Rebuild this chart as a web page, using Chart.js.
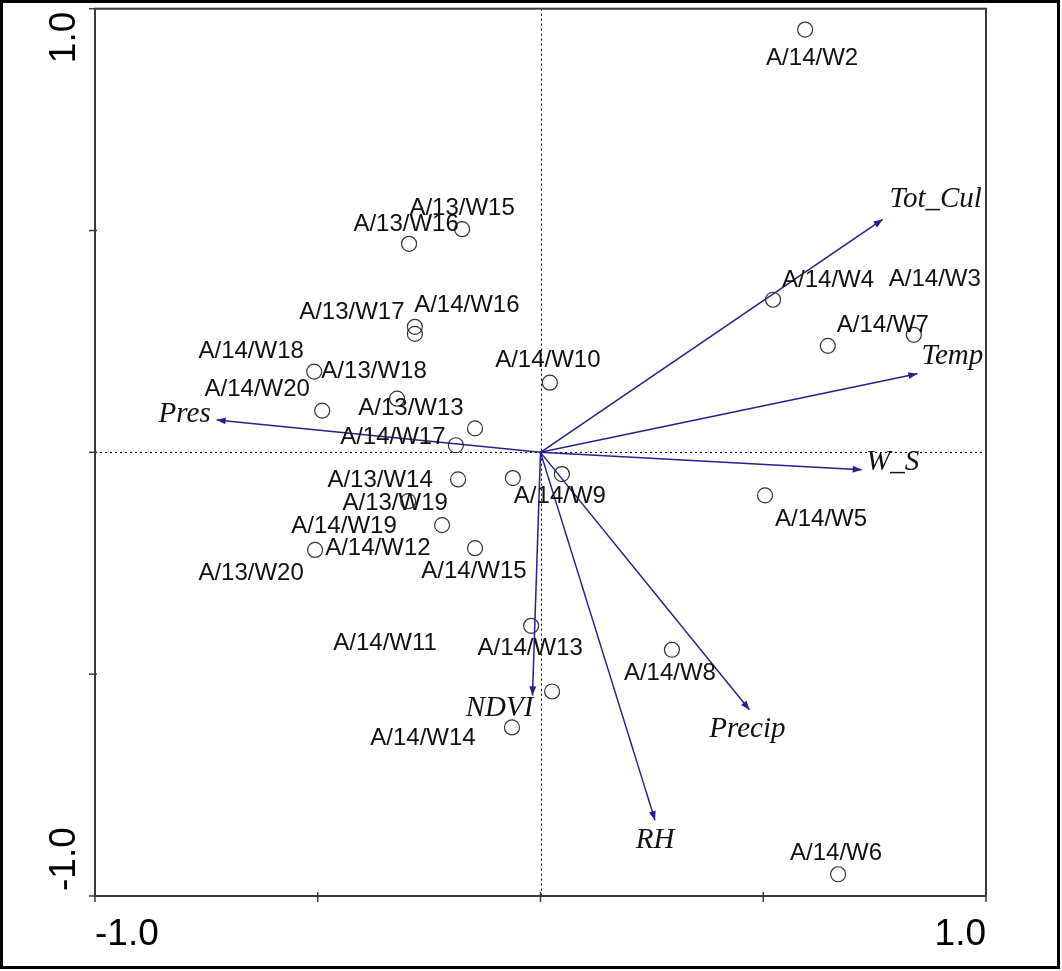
<!DOCTYPE html>
<html><head><meta charset="utf-8">
<script src="https://cdn.jsdelivr.net/npm/chart.js@4.4.1/dist/chart.umd.min.js"></script>
<style>html,body{margin:0;padding:0;background:#fff;overflow:hidden}canvas{display:block}</style>
</head><body>
<canvas id="c" width="1062" height="971"></canvas>
<script>
// ---- data ----
const sampleNames = ['A/14/W2','A/14/W4','A/14/W7','A/14/W3','A/14/W6','A/14/W5','A/14/W8','A/14/W10','A/14/W9',
  'A/14/W12','A/13/W14','A/13/W19','A/14/W19','A/13/W20','A/14/W15','A/13/W15','A/13/W16','A/14/W16','A/13/W17',
  'A/14/W18','A/13/W18','A/14/W20','A/13/W13','A/14/W17','A/14/W13','A/14/W11','A/14/W14'];
const sampleX = [0.594,0.522,0.645,0.838,0.668,0.504,0.295,0.021,0.048,
  -0.062,-0.185,-0.297,-0.221,-0.506,-0.147,-0.176,-0.295,-0.282,-0.282,
  -0.508,-0.322,-0.490,-0.147,-0.190,-0.021,0.026,-0.064];
const sampleY = [0.953,0.344,0.240,0.265,-0.951,-0.097,-0.445,0.157,-0.049,
  -0.058,-0.061,-0.110,-0.164,-0.220,-0.216,0.503,0.470,0.283,0.267,
  0.182,0.121,0.094,0.054,0.016,-0.391,-0.539,-0.620];
const varNames = ['Tot_Cul','Temp','W_S','Precip','RH','NDVI','Pres'];
const varX = [0.768,0.846,0.721,0.469,0.257,-0.018,-0.727];
const varY = [0.525,0.177,-0.039,-0.580,-0.829,-0.548,0.073];
const tickValues = [-1,-0.5,0,0.5,1];
const axisLabels = ['-1.0','1.0'];

// ---- layout (pixel offsets of label centres from their mark) ----
const sampleLabelOffset = [[7,27],[55,-21],[55,-22],[21,-57],[-2,-23],[56,22],[-2,22],[-2,-24],[-2,20],
  [-135,68],[-78,-1],[-13,0],[-98,-1],[-64,21],[-1,21],[0,-23],[-3,-21],[52,-23],[-63,-23],
  [-63,-22],[-23,-29],[-65,-23],[-64,-22],[-63,-10],[-1,21],[-167,-50],[-89,9]];
const varLabelOffset = [[53,-22],[35,-19],[31,-9],[-2,18],[0,18],[-33,11],[-32,-7]];

const NAVY = '#24218c';

const arrowDatasets = varNames.map((n,i)=>({
  type:'line', label:n,
  data:[{x:0,y:0},{x:varX[i],y:varY[i]}],
  borderColor:NAVY, borderWidth:1.5, pointRadius:0, fill:false, tension:0
}));

const decor = {
  id:'decor',
  beforeDatasetsDraw(chart){
    const {ctx, scales:{x,y}} = chart;
    const a = chart.chartArea;
    ctx.save();
    ctx.strokeStyle = '#000'; ctx.lineWidth = 1;
    ctx.setLineDash([2,3]);
    const x0 = Math.round(x.getPixelForValue(0))+0.5, y0 = Math.round(y.getPixelForValue(0))+0.5;
    ctx.beginPath(); ctx.moveTo(x0,a.top); ctx.lineTo(x0,a.bottom); ctx.stroke();
    ctx.beginPath(); ctx.moveTo(a.left,y0); ctx.lineTo(a.right,y0); ctx.stroke();
    ctx.restore();
  },
  afterDatasetsDraw(chart){
    const {ctx, scales:{x,y}} = chart;
    const a = chart.chartArea;
    ctx.save();
    // arrowheads
    ctx.fillStyle = NAVY;
    varNames.forEach((n,i)=>{
      const px = x.getPixelForValue(varX[i]), py = y.getPixelForValue(varY[i]);
      const ox = x.getPixelForValue(0), oy = y.getPixelForValue(0);
      const ang = Math.atan2(py-oy, px-ox);
      const L = 9, W = 3.5;
      ctx.beginPath();
      ctx.moveTo(px,py);
      ctx.lineTo(px - L*Math.cos(ang) + W*Math.sin(ang), py - L*Math.sin(ang) - W*Math.cos(ang));
      ctx.lineTo(px - L*Math.cos(ang) - W*Math.sin(ang), py - L*Math.sin(ang) + W*Math.cos(ang));
      ctx.closePath(); ctx.fill();
    });
    // variable labels
    ctx.fillStyle = '#111';
    ctx.font = 'italic 29px "Liberation Serif"';
    ctx.textAlign = 'center'; ctx.textBaseline = 'alphabetic';
    varNames.forEach((n,i)=>{
      const px = x.getPixelForValue(varX[i]) + varLabelOffset[i][0];
      const py = y.getPixelForValue(varY[i]) + varLabelOffset[i][1];
      ctx.fillText(n, px, py + 9.5);
    });
    // sample labels
    ctx.font = '24px "Liberation Sans"';
    sampleNames.forEach((n,i)=>{
      const px = x.getPixelForValue(sampleX[i]) + sampleLabelOffset[i][0];
      const py = y.getPixelForValue(sampleY[i]) + sampleLabelOffset[i][1];
      ctx.fillText(n, px, py + 8.6);
    });
    // plot frame
    ctx.strokeStyle = '#3a3a3a'; ctx.lineWidth = 2;
    ctx.strokeRect(a.left, a.top, a.right-a.left, a.bottom-a.top);
    // ticks
    ctx.lineWidth = 1.5;
    tickValues.forEach(v=>{
      const px = x.getPixelForValue(v);
      ctx.beginPath(); ctx.moveTo(px, a.bottom-4); ctx.lineTo(px, a.bottom+6); ctx.stroke();
      const py = y.getPixelForValue(v);
      ctx.beginPath(); ctx.moveTo(a.left-6, py); ctx.lineTo(a.left+2, py); ctx.stroke();
    });
    // axis labels
    ctx.fillStyle = '#000';
    ctx.font = '37px "Liberation Sans"';
    ctx.textBaseline = 'alphabetic';
    ctx.textAlign = 'left';
    ctx.fillText(axisLabels[0], x.getPixelForValue(-1), 945);
    ctx.textAlign = 'right';
    ctx.fillText(axisLabels[1], x.getPixelForValue(1), 945);
    ctx.save();
    ctx.translate(75, y.getPixelForValue(1));
    ctx.rotate(-Math.PI/2);
    ctx.textAlign = 'right';
    ctx.fillText(axisLabels[1], -3, 0);
    ctx.restore();
    ctx.save();
    ctx.translate(75, y.getPixelForValue(-1));
    ctx.rotate(-Math.PI/2);
    ctx.textAlign = 'left';
    ctx.fillText(axisLabels[0], 5, 0);
    ctx.restore();
    // outer frame
    ctx.strokeStyle = '#000'; ctx.lineWidth = 3;
    ctx.strokeRect(1.5, 1.5, 1057, 966);
    ctx.restore();
  }
};

new Chart(document.getElementById('c'), {
  type:'scatter',
  data:{ datasets:[
    ...arrowDatasets,
    { type:'scatter', label:'samples',
      data: sampleX.map((v,i)=>({x:v, y:sampleY[i]})),
      pointRadius:7.5, pointHoverRadius:7.5, borderColor:'#333', borderWidth:1.2,
      backgroundColor:'rgba(255,255,255,0)' }
  ]},
  options:{
    responsive:false, animation:false, devicePixelRatio:1,
    layout:{padding:{left:95, right:76, top:4, bottom:75}},
    plugins:{legend:{display:false}, tooltip:{enabled:false}},
    scales:{
      x:{type:'linear', min:-1, max:1, display:false},
      y:{type:'linear', min:-1, max:1, display:false}
    }
  },
  plugins:[decor]
});
</script>
</body></html>
